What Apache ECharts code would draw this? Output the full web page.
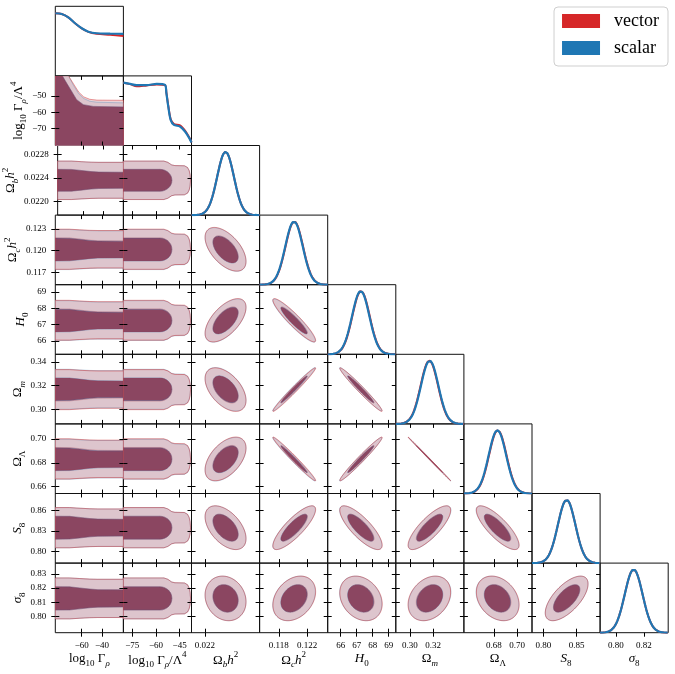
<!DOCTYPE html>
<html><head><meta charset="utf-8">
<script src="https://cdn.jsdelivr.net/npm/echarts@6/dist/echarts.min.js"></script>
<style>html,body{margin:0;padding:0;background:#fff}#c{width:675px;height:674px}</style>
</head><body><div id="c"></div><script>
// ================= DATA =================
const seriesNames = ['vector', 'scalar'];
// parameter order: 0 log10 Γρ, 1 log10 Γρ/Λ^4, 2 Ωb h^2, 3 Ωc h^2, 4 H0, 5 Ωm, 6 ΩΛ, 7 S8, 8 σ8
const axisLabels = [
  '{n|log}{sb|10}{n| Γ}{si|ρ}',
  '{n|log}{sb|10}{n| Γ}{si|ρ}{n|/Λ}{sp|4}',
  '{n|Ω}{si|b}{i|h}{sp|2}',
  '{n|Ω}{si|c}{i|h}{sp|2}',
  '{i|H}{sb|0}',
  '{n|Ω}{si|m}',
  '{n|Ω}{sb|Λ}',
  '{i|S}{sb|8}',
  '{i|σ}{sb|8}'
];
const ranges = [[-86, -19], [-80.6, -37.5], [0.02177, 0.02295], [0.1153, 0.1249], [65.19, 69.44],
  [0.2878, 0.3465], [0.6542, 0.7127], [0.783, 0.885], [0.7886, 0.8375]];
const xTicks = [[-60, -40], [-75, -60, -45], [0.022], [0.118, 0.122], [66, 67, 68, 69],
  [0.30, 0.32], [0.68, 0.70], [0.80, 0.85], [0.80, 0.82]];
const yTicks = [[], [-70, -60, -50], [0.0220, 0.0224, 0.0228], [0.117, 0.120, 0.123], [66, 67, 68, 69],
  [0.30, 0.32, 0.34], [0.66, 0.68, 0.70], [0.80, 0.83, 0.86], [0.80, 0.81, 0.82, 0.83]];
const xDecimals = [0, 0, 3, 3, 0, 2, 2, 2, 2];
const yDecimals = [0, 0, 4, 3, 0, 2, 2, 2, 2];

// Gaussian-like parameters (2..8): posterior means and standard deviations
const meanScalar = [null, null, 0.02236, 0.12015, 67.25, 0.3170, 0.6830, 0.8349, 0.8127];
const meanVector = [null, null, 0.02236, 0.12019, 67.27, 0.3167, 0.6833, 0.8349, 0.8127];
const sigma      = [null, null, 0.000145, 0.00123, 0.54, 0.0075, 0.0075, 0.0131, 0.0064];
// correlation matrix for parameters 2..8
const corr = [
  [ 1.00, -0.55,  0.60, -0.50,  0.50, -0.50, -0.15],
  [-0.55,  1.00, -0.93,  0.985, -0.985, 0.83,  0.30],
  [ 0.60, -0.93,  1.00, -0.98,  0.98, -0.80, -0.25],
  [-0.50,  0.985, -0.98, 1.00, -0.9995, 0.80, 0.28],
  [ 0.50, -0.985, 0.98, -0.9995, 1.00, -0.80, -0.28],
  [-0.50,  0.83, -0.80,  0.80, -0.80,  1.00,  0.65],
  [-0.15,  0.30, -0.25,  0.28, -0.28,  0.65,  1.00]
];
const contourLevels = [0.68, 0.95];

// 1D marginal of log10 Γρ (normalised to peak)
const gammaRhoX      = [-86, -79.7, -73.2, -66.6, -60, -53.5, -45.3, -32.1, -19];
const gammaRhoScalar = [0.99, 0.978, 0.926, 0.832, 0.753, 0.699, 0.674, 0.668, 0.663];
const gammaRhoVector = [0.99, 0.978, 0.926, 0.832, 0.750, 0.695, 0.665, 0.650, 0.632];
// 1D marginal of log10 Γρ/Λ^4
const gammaLamX      = [-80.6, -76.4, -72.2, -65.9, -59.5, -54.3, -53.4, -52.2, -50.7, -48.6, -44.8, -41.6, -38.9, -37.5];
const gammaLamScalar = [0.994, 0.974, 0.953, 0.953, 0.974, 0.958, 0.827, 0.615, 0.406, 0.327, 0.300, 0.221, 0.117, 0.047];
const gammaLamVector = [0.99, 0.97, 0.935, 0.95, 0.965, 0.955, 0.84, 0.63, 0.42, 0.34, 0.32, 0.235, 0.125, 0.05];

// joint (log10 Γρ, log10 Γρ/Λ^4): upper boundary of filled regions
const jointDarkX   = [-86, -79, -75, -70, -65, -58.4, -48.6, -19];
const jointDarkTop = [-37.5, -37.5, -41.8, -47, -52.2, -55.3, -56.4, -56.7];
const jointLightX  = [-86, -73, -68, -63, -58, -52, -45, -19];
const jointLightTopVector = [-37.5, -37.5, -42.5, -47.5, -50.5, -52, -52.5, -52.6];
const jointLightTopScalar = [-37.5, -37.5, -43.5, -48.5, -51.5, -53.2, -53.8, -54.2];

// bands vs log10 Γρ : half-width in units of sigma
const band0X     = [-86, -72, -62, -52, -44, -19];
const band0Dark  = [1.28, 1.27, 1.15, 1.02, 0.96, 0.94];
const band0Light = [2.25, 2.25, 2.18, 2.12, 2.10, 2.10];
// bands vs log10 Γρ/Λ^4 : half-width in units of sigma
const band1DarkX  = [-80.6, -57.5, -56, -54.5, -53, -52, -51, -50.5, -50.1, -49.9];
const band1Dark   = [1.28, 1.28, 1.255, 1.176, 1.03, 0.883, 0.663, 0.5, 0.29, 0];
const band1LightX = [-80.6, -55, -52.5, -50, -48, -42, -40, -39, -38.4, -38.1];
const band1Light  = [2.25, 2.25, 2.1, 1.8, 1.72, 1.7, 1.5, 1.15, 0.7, 0];

// ================= HELPERS =================
const F = "'Liberation Serif','DejaVu Serif',serif";
const L0 = 55.3, T0 = 6.3, W = 68.1, H = 69.6;
const RED = '#d62728', BLUE = '#1f77b4';
const radii = contourLevels.map(p => Math.sqrt(-2 * Math.log(1 - p)));
const rich = {
  n: {fontFamily: F, fontSize: 13, lineHeight: 19, color: '#000'},
  i: {fontFamily: F, fontSize: 13, lineHeight: 19, fontStyle: 'italic', color: '#000'},
  sb: {fontFamily: F, fontSize: 9, lineHeight: 9, verticalAlign: 'bottom', color: '#000'},
  si: {fontFamily: F, fontSize: 9, lineHeight: 9, verticalAlign: 'bottom', fontStyle: 'italic', color: '#000'},
  sp: {fontFamily: F, fontSize: 9, lineHeight: 10, verticalAlign: 'top', color: '#000'}
};
function fmt(v, d) { return v.toFixed(d).replace('-', '\u2212'); }
function ellipse(mx, my, sx, sy, rho, r) {
  const pts = [], s = Math.sqrt(1 - rho * rho);
  for (let k = 0; k <= 120; k++) {
    const t = 2 * Math.PI * k / 120;
    pts.push([mx + r * sx * Math.cos(t), my + r * sy * (rho * Math.cos(t) + s * Math.sin(t))]);
  }
  return pts;
}
function bandPoly(xs, fs, m, s) {
  const up = xs.map((x, k) => [x, m + fs[k] * s]);
  const lo = xs.map((x, k) => [x, m - fs[k] * s]).reverse();
  return up.concat(lo);
}
function jointPoly(xs, tops) {
  const y0 = ranges[1][0] - 1;
  return [[xs[0], y0]].concat(xs.map((x, k) => [x, tops[k]])).concat([[xs[xs.length - 1], y0]]);
}
function shapes(i, j, ds) {
  const mean = ds === 'vector' ? meanVector : meanScalar;
  if (i === 1 && j === 0) return {
    light: jointPoly(jointLightX, ds === 'vector' ? jointLightTopVector : jointLightTopScalar),
    dark: jointPoly(jointDarkX, jointDarkTop)};
  if (j === 0) return {light: bandPoly(band0X, band0Light, mean[i], sigma[i]), dark: bandPoly(band0X, band0Dark, mean[i], sigma[i])};
  if (j === 1) return {light: bandPoly(band1LightX, band1Light, mean[i], sigma[i]), dark: bandPoly(band1DarkX, band1Dark, mean[i], sigma[i])};
  const r = corr[i - 2][j - 2];
  return {light: ellipse(mean[j], mean[i], sigma[j], sigma[i], r, radii[1]),
          dark: ellipse(mean[j], mean[i], sigma[j], sigma[i], r, radii[0])};
}
function gaussCurve(m, s, xr) {
  const out = [];
  for (let k = 0; k <= 150; k++) { const x = xr[0] + (xr[1] - xr[0]) * k / 150; out.push([x, Math.exp(-0.5 * ((x - m) / s) ** 2)]); }
  return out;
}

// ================= BUILD OPTION =================
const grids = [], xAxes = [], yAxes = [], lineSeries = [], polySeries = [];
const tickStyle = {color: '#000', width: 1};
for (let i = 0; i < 9; i++) {
  for (let j = 0; j <= i; j++) {
    const g = grids.length, is1D = i === j;
    grids.push({left: L0 + j * W, top: T0 + i * H, width: W, height: H, show: true,
      borderColor: '#111', borderWidth: 1, backgroundColor: 'transparent'});
    const xr = ranges[j], yr = is1D ? [0, 1.1] : ranges[i];
    const xi = xAxes.length;
    xAxes.push({gridIndex: g, type: 'value', min: xr[0], max: xr[1], position: 'bottom', z: 10,
      axisLine: {show: false}, splitLine: {show: false},
      axisTick: {show: !is1D, inside: true, length: 4, customValues: xTicks[j], lineStyle: tickStyle},
      axisLabel: {show: i === 8, customValues: xTicks[j], formatter: v => fmt(v, xDecimals[j]), margin: 8,
        fontFamily: F, fontSize: 9, color: '#000'},
      name: i === 8 ? axisLabels[j] : '', nameLocation: 'middle', nameGap: 16, nameTextStyle: {rich: rich}});
    if (i === 8) xAxes.push({gridIndex: g, type: 'value', min: xr[0], max: xr[1], position: 'bottom', z: 10,
      axisLine: {show: false}, splitLine: {show: false}, axisLabel: {show: false},
      axisTick: {show: true, inside: false, length: 4, customValues: xTicks[j], lineStyle: tickStyle}});
    if (!is1D) xAxes.push({gridIndex: g, type: 'value', min: xr[0], max: xr[1], position: 'top', z: 10,
      axisLine: {show: false}, splitLine: {show: false}, axisLabel: {show: false},
      axisTick: {show: true, inside: true, length: 4, customValues: xTicks[j], lineStyle: tickStyle}});
    const yi = yAxes.length;
    yAxes.push({gridIndex: g, type: 'value', min: yr[0], max: yr[1], position: 'left', z: 10,
      axisLine: {show: false}, splitLine: {show: false},
      axisTick: {show: !is1D, inside: true, length: 4, customValues: is1D ? [] : yTicks[i], lineStyle: tickStyle},
      axisLabel: {show: !is1D && j === 0, customValues: is1D ? [] : yTicks[i], formatter: v => fmt(v, yDecimals[i]),
        margin: 9, fontFamily: F, fontSize: 9, color: '#000'},
      name: (!is1D && j === 0) ? axisLabels[i] : '', nameLocation: 'middle', nameGap: 25, nameRotate: 90,
      nameTextStyle: {rich: rich}});
    if (!is1D) {
      if (j === 0) yAxes.push({gridIndex: g, type: 'value', min: yr[0], max: yr[1], position: 'left', z: 10,
        axisLine: {show: false}, splitLine: {show: false}, axisLabel: {show: false},
        axisTick: {show: true, inside: false, length: 4, customValues: yTicks[i], lineStyle: tickStyle}});
      yAxes.push({gridIndex: g, type: 'value', min: yr[0], max: yr[1], position: 'right', z: 10,
        axisLine: {show: false}, splitLine: {show: false}, axisLabel: {show: false},
        axisTick: {show: true, inside: true, length: 4, customValues: yTicks[i], lineStyle: tickStyle}});
    }
    if (is1D) {
      let vData, sData;
      if (i === 0) { vData = gammaRhoX.map((x, k) => [x, gammaRhoVector[k]]); sData = gammaRhoX.map((x, k) => [x, gammaRhoScalar[k]]); }
      else if (i === 1) { vData = gammaLamX.map((x, k) => [x, gammaLamVector[k]]); sData = gammaLamX.map((x, k) => [x, gammaLamScalar[k]]); }
      else { vData = gaussCurve(meanVector[i], sigma[i], xr); sData = gaussCurve(meanScalar[i], sigma[i], xr); }
      const sm = i < 2 ? 0.3 : false;
      lineSeries.push({name: 'vector', type: 'line', xAxisIndex: xi, yAxisIndex: yi, data: vData, showSymbol: false,
        smooth: sm, itemStyle: {color: RED}, lineStyle: {color: RED, width: 2}, z: 3});
      lineSeries.push({name: 'scalar', type: 'line', xAxisIndex: xi, yAxisIndex: yi, data: sData, showSymbol: false,
        smooth: sm, itemStyle: {color: BLUE}, lineStyle: {color: BLUE, width: 2.2}, z: 4});
    } else {
      const sv = shapes(i, j, 'vector'), ss = shapes(i, j, 'scalar');
      const center = [[(xr[0] + xr[1]) / 2, (yr[0] + yr[1]) / 2]];
      const mk = (name, polys) => ({name: name, type: 'custom', coordinateSystem: 'cartesian2d', xAxisIndex: xi, yAxisIndex: yi,
        clip: true, silent: true, data: center, itemStyle: {color: name === 'vector' ? RED : BLUE},
        renderItem: (params, api) => ({type: 'group', children: polys.map(p => ({type: 'polygon',
          shape: {points: p.pts.map(pt => api.coord(pt))}, style: p.style}))})});
      polySeries.push(mk('vector', [{pts: sv.light, style: {fill: '#ecd2d6', stroke: null}}]));
      polySeries.push(mk('scalar', [
        {pts: ss.light, style: {fill: '#ddc5cd', stroke: 'rgba(31,119,180,0.35)', lineWidth: 0.8}},
        {pts: ss.dark, style: {fill: '#8b4661', stroke: 'rgba(31,119,180,0.45)', lineWidth: 0.8}}]));
      polySeries.push(mk('vector', [
        {pts: sv.light, style: {fill: null, stroke: 'rgba(214,39,40,0.55)', lineWidth: 0.8}},
        {pts: sv.dark, style: {fill: null, stroke: 'rgba(214,39,40,0.35)', lineWidth: 0.7}}]));
    }
  }
}

const option = {
  animation: false,
  backgroundColor: '#fff',
  color: [RED, BLUE],
  legend: {
    data: [{name: seriesNames[0], itemStyle: {color: RED}}, {name: seriesNames[1], itemStyle: {color: BLUE}}],
    orient: 'vertical', right: 7, top: 7, icon: 'rect', itemWidth: 38, itemHeight: 14, itemGap: 9,
    padding: [5, 9, 9, 8], borderColor: '#cfcfcf', borderWidth: 1, borderRadius: 4, backgroundColor: '#fff',
    textStyle: {fontFamily: F, fontSize: 18, color: '#000', padding: [0, 0, 0, 9]}
  },
  grid: grids, xAxis: xAxes, yAxis: yAxes,
  series: lineSeries.concat(polySeries)
};
const chart = echarts.init(document.getElementById('c'), null, {renderer: 'canvas'});
chart.setOption(option);
</script></body></html>
